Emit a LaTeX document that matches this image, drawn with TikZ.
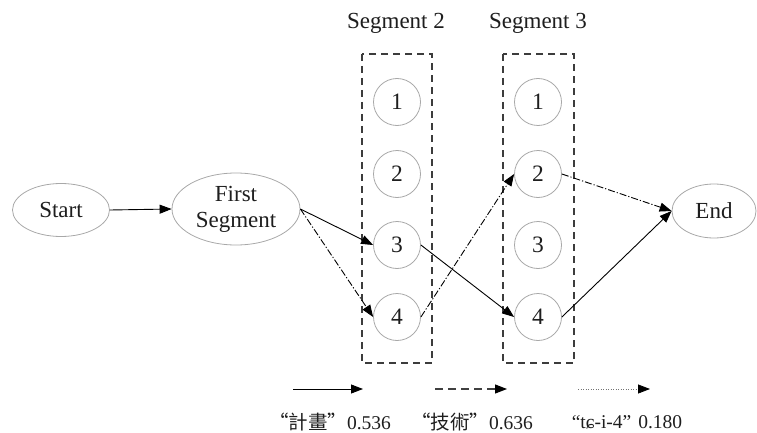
\documentclass[tikz,border=0pt]{standalone}
\usepackage{fontspec}
\setmainfont{Liberation Serif}
\newfontfamily\cjk{Noto Sans CJK TC}
\usetikzlibrary{shapes.geometric,arrows.meta}
\definecolor{nodegray}{HTML}{A8A8A8}
\definecolor{boxgray}{HTML}{3C3C3C}
\definecolor{txt}{HTML}{1E1E1E}
\tikzset{
  ell/.style={ellipse,draw=nodegray,line width=0.8pt,inner sep=0pt,text=txt,
    font=\fontsize{23}{26}\selectfont,align=center},
  circ/.style={circle,draw=nodegray,line width=0.8pt,minimum size=47pt,inner sep=0pt,
    text=txt,font=\fontsize{23.5}{26}\selectfont},
  segbox/.style={draw=boxgray,line width=1.4pt,dash pattern=on 7pt off 5pt},
  seglabel/.style={text=txt,font=\fontsize{23}{26}\selectfont},
  tip/.style={-{Triangle[length=12pt,width=9pt,color=black]}},
  solidedge/.style={tip,draw=black,line width=0.9pt},
  dashdotedge/.style={tip,draw=black,line width=0.9pt,dash pattern=on 7pt off 2pt on 1.2pt off 2pt},
  legdash/.style={tip,draw=black!75,line width=1.1pt,dash pattern=on 8pt off 5pt},
  legdot/.style={tip,draw=black!55,line width=0.8pt,dash pattern=on 1pt off 1.5pt},
  leglabel/.style={text=txt,font=\fontsize{19.5}{22}\selectfont,inner sep=0pt},
}
\begin{document}
\begin{tikzpicture}[x=1pt,y=-1pt]
\useasboundingbox (0,0) rectangle (757,433);
% segment boxes
\draw[segbox] (362,54) rectangle (432,363);
\draw[segbox] (503,54) rectangle (574,363);
\node[seglabel] (lab2) at (396,23) {Segment 2};
\node[seglabel] (lab3) at (538,23) {Segment 3};
% ellipses
\node[ell,minimum width=97pt,minimum height=53pt] (start) at (61,210) {Start};
\node[ell,minimum width=128pt,minimum height=72pt] (first) at (236,209) {First\\Segment};
\node[ell,minimum width=84pt,minimum height=54pt] (end) at (714,211) {End};
% circles
\foreach \i/\y in {1/102,2/174,3/245,4/317}{
  \node[circ] (a\i) at (397,\y) {\i};
  \node[circ] (b\i) at (538,\y) {\i};
}
% edges
\draw[solidedge] (start.east) -- (first.west);
\draw[solidedge] (first.east) -- (a3.west);
\draw[dashdotedge] (first.east) -- (a4.west);
\draw[dashdotedge] (a4.east) -- (b2.west);
\draw[solidedge] (a3.east) -- (b4.west);
\draw[dashdotedge] (b2.east) -- (end.west);
\draw[solidedge] (b4.east) -- (end.west);
% legend
\coordinate (l1a) at (293,389); \coordinate (l1b) at (363,389);
\coordinate (l2a) at (435,389); \coordinate (l2b) at (507,389);
\coordinate (l3a) at (578,389); \coordinate (l3b) at (650,389);
\draw[solidedge] (l1a) -- (l1b);
\draw[legdash] (l2a) -- (l2b);
\draw[legdot] (l3a) -- (l3b);
\node[leglabel] (t1) at (330,422) {{\cjk “計畫”}0.536};
\node[leglabel] (t2) at (472,422) {{\cjk “技術”}0.636};
\node[leglabel] (t3) at (627,422) {“tɕ-i-4”\hspace{7pt}0.180};
\end{tikzpicture}
\end{document}
